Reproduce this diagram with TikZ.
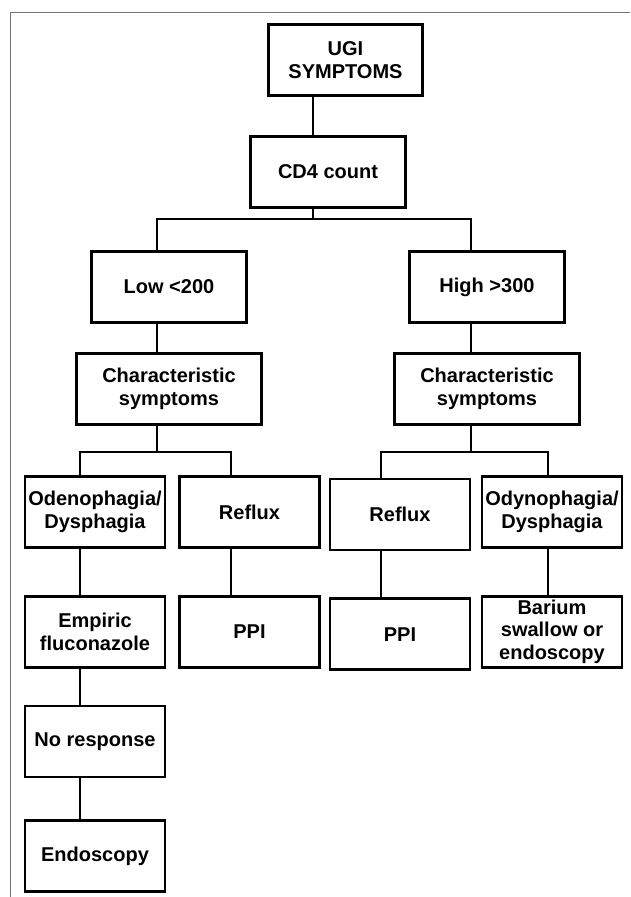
\documentclass[tikz,border=0pt]{standalone}
\usepackage{fontspec}
\setmainfont{Liberation Sans}
\usetikzlibrary{positioning}
\begin{document}
\begin{tikzpicture} [
        x=1pt, y=1pt,
        box/.style={draw, rectangle, line width=2.7pt, inner xsep=1pt, inner ysep=2pt,
            minimum height=71pt, align=center, font=\fontsize{20}{22.5}\selectfont\bfseries},
        topbox/.style={box, minimum width=154.5pt},
        midbox/.style={box, minimum width=185pt},
        leafbox/.style={box, minimum width=140pt},
        link/.style={line width=2.6pt},
        frame/.style={draw=black!55, line width=1pt} ]
    \useasboundingbox (0,0) rectangle (630,-897);
    \draw[frame] (10,-897) |- (630,-12);

    \coordinate (trunk) at (313,0);
    \coordinate (colL) at (157,0);
    \coordinate (colR) at (471,0);
    \coordinate (colA) at (80,0);
    \coordinate (colB) at (231,0);
    \coordinate (colC) at (381,0);
    \coordinate (colD) at (548,0);
    \coordinate (fork1) at (313,-219);
    \coordinate (forkL) at (157,-452);
    \coordinate (forkR) at (471,-452);

    \node[topbox] (ugi) at (345.5,-60) {UGI\\SYMPTOMS};
    \node[topbox] (cd4) at (328,-172) {CD4 count};
    \node[topbox] (low) at (169,-287) {Low <200};
    \node[topbox] (high) at (487,-287) {High >300};
    \node[midbox, below=28pt of low] (charL) {Characteristic\\symptoms};
    \node[midbox, below=28pt of high] (charR) {Characteristic\\symptoms};

    \node[leafbox] (odeno) at (95,-512) {Odenophagia/\\Dysphagia};
    \node[leafbox] (refluxL) at (249.5,-512) {Reflux};
    \node[leafbox] (refluxR) at (400,-514.5) {Reflux};
    \node[leafbox] (odyno) at (552,-512) {Odynophagia/\\Dysphagia};
    \node[leafbox, below=46pt of odeno] (empiric) {Empiric\\fluconazole};
    \node[leafbox, below=46pt of refluxL] (ppiL) {PPI};
    \node[leafbox, below=46pt of refluxR] (ppiR) {PPI};
    \node[leafbox, below=46pt of odyno] (barium) {Barium\\swallow or\\endoscopy};
    \node[leafbox, below=36pt of empiric] (noresp) {No response};
    \node[leafbox, below=41pt of noresp] (endo) {Endoscopy};

    \draw[link] (ugi.south -| trunk) -- (cd4.north -| trunk);
    \draw[link] (cd4.south -| trunk) -- (fork1);
    \draw[link] (low.north -| colL) |- (fork1) -| (high.north -| colR);
    \draw[link] (low.south -| colL) -- (charL.north -| colL);
    \draw[link] (high.south -| colR) -- (charR.north -| colR);
    \draw[link] (charL.south -| colL) -- (forkL);
    \draw[link] (odeno.north -| colA) |- (forkL) -| (refluxL.north -| colB);
    \draw[link] (charR.south -| colR) -- (forkR);
    \draw[link] (refluxR.north -| colC) |- (forkR) -| (odyno.north -| colD);
    \draw[link] (odeno.south -| colA) -- (empiric.north -| colA);
    \draw[link] (refluxL.south -| colB) -- (ppiL.north -| colB);
    \draw[link] (refluxR.south -| colC) -- (ppiR.north -| colC);
    \draw[link] (odyno.south -| colD) -- (barium.north -| colD);
    \draw[link] (empiric.south -| colA) -- (noresp.north -| colA);
    \draw[link] (noresp.south -| colA) -- (endo.north -| colA);
\end{tikzpicture}
\end{document}
